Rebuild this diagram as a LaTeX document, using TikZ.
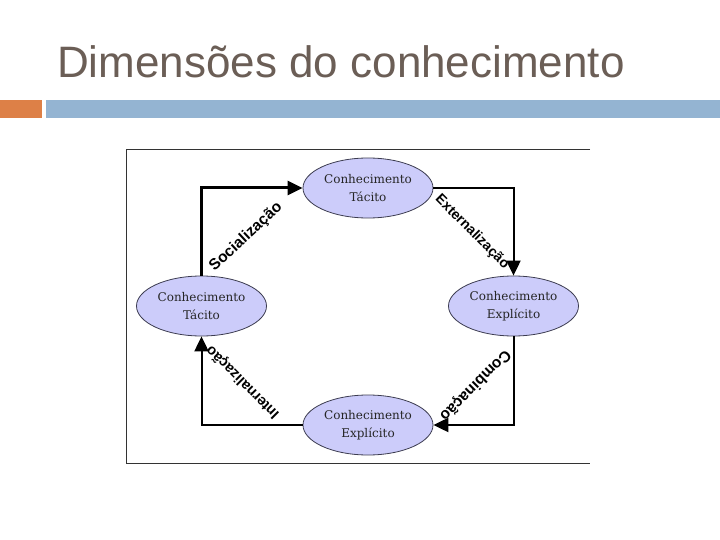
\documentclass[tikz,border=0pt]{standalone}
\usepackage{fontspec}
\setmainfont{DejaVu Serif}
\newfontfamily\titlefont{Liberation Sans}
\newfontfamily\lblfont{Liberation Sans}
\usetikzlibrary{shapes.geometric,arrows.meta}
\definecolor{titlegray}{RGB}{107,94,86}
\definecolor{barorange}{RGB}{221,128,71}
\definecolor{barblue}{RGB}{148,180,210}
\definecolor{ellfill}{RGB}{204,204,250}
\definecolor{ellline}{RGB}{60,60,80}
\tikzset{
  know/.style={ellipse, draw=ellline, line width=0.8pt, fill=ellfill,
    minimum width=130pt, minimum height=60pt, inner sep=0pt,
    align=center, font=\fontsize{12}{18}\selectfont, text=black!85},
  conn/.style={line width=2pt, -{Triangle[length=15pt,width=14pt]}},
  lbl/.style={font=\lblfont\bfseries\fontsize{15.5}{15.5}\selectfont, inner sep=0pt}
}
\begin{document}
\begin{tikzpicture}[x=1pt,y=-1pt]
\useasboundingbox (0,0) rectangle (720,540);
% header
\node[anchor=base west, inner sep=0pt, text=titlegray, font=\titlefont\fontsize{44}{44}\selectfont] (title) at (57,78) {Dimensões do conhecimento};
\fill[barorange] (0,100) rectangle (42,118);
\fill[barblue] (46,100) rectangle (720,118);
% frame
\draw[line width=1pt, black!80] (590,150) -- (126,150) -- (126,463) -- (590,463);
% nodes
\node[know] (T) at (368,188) {Conhecimento\\Tácito};
\node[know] (L) at (201.5,306) {Conhecimento\\Tácito};
\node[know] (R) at (513.5,306) {Conhecimento\\Explícito};
\node[know] (B) at (368,425) {Conhecimento\\Explícito};
% connectors
\draw[conn, line width=3pt] (L.north) |- (T.west);
\draw[conn] (T.east) -| (R.north);
\draw[conn] (R.south) |- (B.east);
\draw[conn] (B.west) -| (L.south);
% labels
\node[lbl, rotate=43] (s) at (246,237) {Socialização};
\node[lbl, rotate=-45, font=\lblfont\bfseries\fontsize{14}{14}\selectfont] (e) at (472,232) {Externalização};
\node[lbl, rotate=225] (c) at (475,385) {Combinação};
\node[lbl, rotate=135, font=\lblfont\bfseries\fontsize{14.5}{14.5}\selectfont] (i) at (243,382) {Internalização};
\end{tikzpicture}
\end{document}
